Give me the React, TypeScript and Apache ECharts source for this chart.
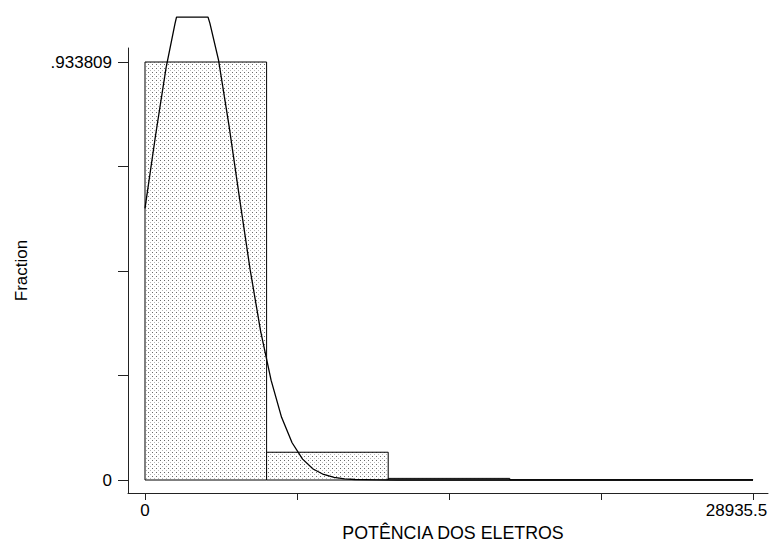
import React, { useEffect, useRef } from "react";
import * as echarts from "echarts";

// Histogram bins (lower edge, upper edge) and fractions
const binEdges = [0, 5787.1, 11574.2, 17361.3, 23148.4, 28935.5];
const fractions = [0.933809, 0.062, 0.0036, 0.0003, 0.0003];

// Overlaid normal density curve (fraction scale) as drawn in the picture
// (the drawn curve is flattened at the top edge of the plot region)
const curveX = [
  0, 500, 1000, 1430, 1500, 2000, 2284, 2500, 3000, 3090, 3500, 4000, 4500,
  5000, 5500, 6000, 6500, 7000, 7500, 8000, 8500, 9000, 9500, 10000, 11000,
  12000, 28935.5,
];
const curveY = [
  0.607, 0.769, 0.92, 1.02, 1.034, 1.034, 1.034, 1.034, 1.034, 1.02, 0.938,
  0.791, 0.629, 0.471, 0.333, 0.223, 0.14, 0.0832, 0.0466, 0.0246, 0.0123,
  0.00577, 0.00256, 0.00107, 0.00016, 0.00002, 0,
];

// Axis ticks and labels
const xTicks = [0, 7233.875, 14467.75, 21701.625, 28935.5];
const xLabels = [0, 28935.5];
const yTicks = [0, 0.23345225, 0.4669045, 0.70035675, 0.933809];
const yLabels = [0, 0.933809];

const FONT = "Liberation Sans, Arial, Helvetica, sans-serif";

export default function App() {
  const ref = useRef<HTMLDivElement>(null);

  useEffect(() => {
    if (!ref.current) return;
    const chart = echarts.init(ref.current, undefined, { renderer: "svg" });

    const cv = document.createElement("canvas");
    cv.width = 4;
    cv.height = 4;
    const ctx = cv.getContext("2d")!;
    ctx.fillStyle = "#ffffff";
    ctx.fillRect(0, 0, 4, 4);
    ctx.fillStyle = "#6a6a6a";
    ctx.fillRect(0, 0, 1, 1);
    ctx.fillStyle = "#b8b8b8";
    ctx.fillRect(2, 2, 1, 1);
    const pattern: any = { image: cv, repeat: "repeat", imageWidth: 4, imageHeight: 4 };

    const barData = fractions.map((f, i) => [binEdges[i], binEdges[i + 1], f]);
    const lineData = curveX.map((x, i) => [x, curveY[i]]);

    const pxX = 28935.5 / 608;
    const pxY = 0.933809 / 418;

    const fmtX = (v: number) => (v === 0 ? "0" : "{t|" + String(v) + "}{s| }");
    const fmtY = (v: number) => (v === 0 ? "0" : String(v).replace(/^0\./, "."));

    chart.setOption({
      animation: false,
      backgroundColor: "#ffffff",
      textStyle: { fontFamily: FONT },
      grid: [
        { left: 145, top: 17, width: 608, height: 463, outerBoundsMode: "none", containLabel: false },
        { left: 128, top: 48, width: 640, height: 445, outerBoundsMode: "none", containLabel: false },
      ],
      xAxis: [
        { gridIndex: 0, type: "value", min: 0, max: 28935.5, show: false },
        {
          gridIndex: 1,
          type: "value",
          min: -17 * pxX,
          max: 28935.5 + 15 * pxX,
          axisLine: { show: true, onZero: false, lineStyle: { color: "#222", width: 1 } },
          axisTick: { show: true, customValues: xTicks, length: 7, lineStyle: { color: "#222" } },
          axisLabel: {
            customValues: xLabels,
            formatter: fmtX,
            margin: 9,
            color: "#000",
            fontSize: 17,
            fontFamily: FONT,
            hideOverlap: false,
            rich: {
              t: { fontSize: 17, fontFamily: FONT, color: "#000" },
              s: { width: 33, fontSize: 17 },
            },
          },
          splitLine: { show: false },
          name: "{s| }{n|POTÊNCIA DOS ELETROS}",
          nameLocation: "middle",
          nameGap: 25,
          nameTextStyle: {
            color: "#000",
            fontSize: 17.8,
            fontFamily: FONT,
            rich: {
              s: { width: 10, fontSize: 17.8 },
              n: { fontSize: 17.8, fontFamily: FONT, color: "#000" },
            },
          },
        },
      ],
      yAxis: [
        { gridIndex: 0, type: "value", min: 0, max: 463 * pxY, show: false },
        {
          gridIndex: 1,
          type: "value",
          min: -13 * pxY,
          max: 0.933809 + 14 * pxY,
          axisLine: { show: true, onZero: false, lineStyle: { color: "#222", width: 1 } },
          axisTick: { show: true, customValues: yTicks, length: 10, lineStyle: { color: "#222" } },
          axisLabel: {
            customValues: yLabels,
            formatter: fmtY,
            margin: 16,
            color: "#000",
            fontSize: 17,
            fontFamily: FONT,
          },
          splitLine: { show: false },
          name: "Fraction",
          nameLocation: "middle",
          nameGap: 98,
          nameTextStyle: { color: "#000", fontSize: 17, fontFamily: FONT },
        },
      ],
      series: [
        {
          type: "custom",
          xAxisIndex: 0,
          yAxisIndex: 0,
          data: barData,
          renderItem: (params: any, api: any) => {
            const p0 = api.coord([api.value(0), api.value(2)]);
            const p1 = api.coord([api.value(1), 0]);
            return {
              type: "rect",
              shape: { x: p0[0], y: p0[1], width: p1[0] - p0[0], height: p1[1] - p0[1] },
              style: { fill: pattern, stroke: "#000", lineWidth: 1 },
            };
          },
          z: 1,
        },
        {
          type: "line",
          xAxisIndex: 0,
          yAxisIndex: 0,
          data: lineData,
          symbol: "none",
          clip: false,
          lineStyle: { color: "#000", width: 1.3 },
          z: 2,
        },
      ],
    });

    return () => chart.dispose();
  }, []);

  return <div ref={ref} style={{ width: 773, height: 543, position: "absolute", left: 0, top: 0 }} />;
}
